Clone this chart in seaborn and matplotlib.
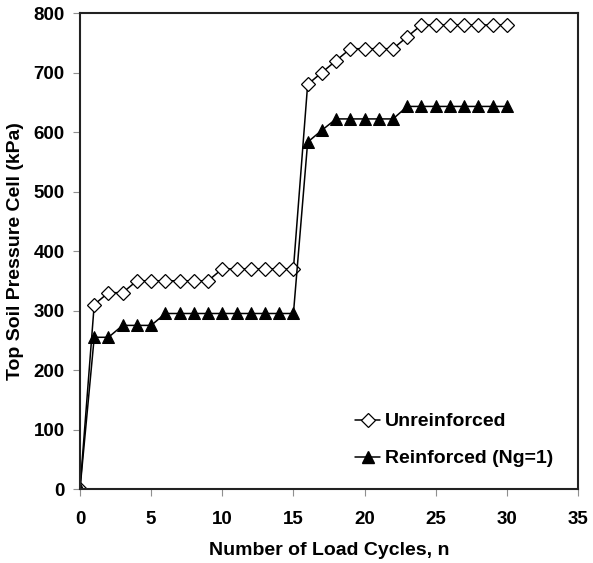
import matplotlib
matplotlib.use("Agg")
import matplotlib.pyplot as plt
from matplotlib.lines import Line2D
import seaborn as sns
import pandas as pd

# Load cycle number
cycles = list(range(0, 31))

# Top soil pressure cell readings (kPa)
unreinforced = [0, 310, 330, 330, 350, 350, 350, 350, 350, 350,
                370, 370, 370, 370, 370, 370, 680, 700, 720, 740,
                740, 740, 740, 760, 780, 780, 780, 780, 780, 780, 780]
reinforced = [0, 255, 255, 275, 275, 275, 295, 295, 295, 295,
              295, 295, 295, 295, 295, 295, 583, 603, 622, 622,
              622, 622, 622, 643, 643, 643, 643, 643, 643, 643, 643]

series_names = ["Unreinforced", "Reinforced (Ng=1)"]

x_ticks = [0, 5, 10, 15, 20, 25, 30, 35]
y_ticks = [0, 100, 200, 300, 400, 500, 600, 700, 800]

df = pd.DataFrame({
    "n": cycles * 2,
    "p": unreinforced + reinforced,
    "series": [series_names[0]] * len(cycles) + [series_names[1]] * len(cycles),
})

sns.set_theme(style="white")
plt.rcParams["font.family"] = ["Liberation Sans", "DejaVu Sans"]
plt.rcParams["font.weight"] = "bold"
plt.rcParams["text.color"] = "black"
plt.rcParams["axes.labelcolor"] = "black"
plt.rcParams["xtick.color"] = "black"
plt.rcParams["ytick.color"] = "black"

TICK_FS = 13.5
LABEL_FS = 14

fig = plt.figure(figsize=(5.93, 5.63), dpi=100)
ax = fig.add_axes([0.1349, 0.1314, 0.8398, 0.8455])

sns.lineplot(data=df, x="n", y="p", hue="series", style="series",
             markers={series_names[0]: "D", series_names[1]: "^"},
             dashes=False, palette=["black", "black"], linewidth=1.1,
             ax=ax, legend=False)

# Marker styling: open diamonds, filled triangles
lines = ax.get_lines()
lines[0].set_markerfacecolor("white")
lines[0].set_markeredgecolor("black")
lines[0].set_markersize(7)
lines[0].set_markeredgewidth(0.9)
lines[1].set_markerfacecolor("black")
lines[1].set_markeredgecolor("black")
lines[1].set_markersize(9)

ax.set_xlim(0, 35)
ax.set_ylim(0, 800)
ax.set_xticks(x_ticks)
ax.set_yticks(y_ticks)
ax.set_xticklabels([str(t) for t in x_ticks], fontsize=TICK_FS, fontweight="bold", color="black")
ax.set_yticklabels([str(t) for t in y_ticks], fontsize=TICK_FS, fontweight="bold", color="black")
ax.tick_params(axis="both", direction="out", length=5, width=0.8,
               color="#909090", bottom=True, left=True)
ax.tick_params(axis="x", pad=11)
ax.tick_params(axis="y", pad=6)

ax.set_xlabel("Number of Load Cycles, n", fontsize=LABEL_FS, fontweight="bold",
              color="black", labelpad=10)
ax.set_ylabel("Top Soil Pressure Cell (kPa)", fontsize=LABEL_FS, fontweight="bold",
              color="black", labelpad=7)

for side in ["left", "right", "top", "bottom"]:
    ax.spines[side].set_visible(True)
    ax.spines[side].set_color("#222222")
    ax.spines[side].set_linewidth(1.5)

# Legend entries matching the drawn series
handles = [
    Line2D([], [], color="black", lw=1.1, marker="D", markersize=7,
           markerfacecolor="white", markeredgecolor="black", markeredgewidth=0.9),
    Line2D([], [], color="black", lw=1.1, marker="^", markersize=9,
           markerfacecolor="black", markeredgecolor="black"),
]
leg = ax.legend(handles, series_names, loc="lower right", frameon=False,
                prop={"size": LABEL_FS, "weight": "bold"}, handlelength=1.3,
                handletextpad=0.25, labelspacing=1.0, borderaxespad=0,
                bbox_to_anchor=(0.966, 0.029))
for t in leg.get_texts():
    t.set_color("black")

ax.set_facecolor("white")
fig.patch.set_facecolor("white")
fig.savefig("out.png", dpi=100)
